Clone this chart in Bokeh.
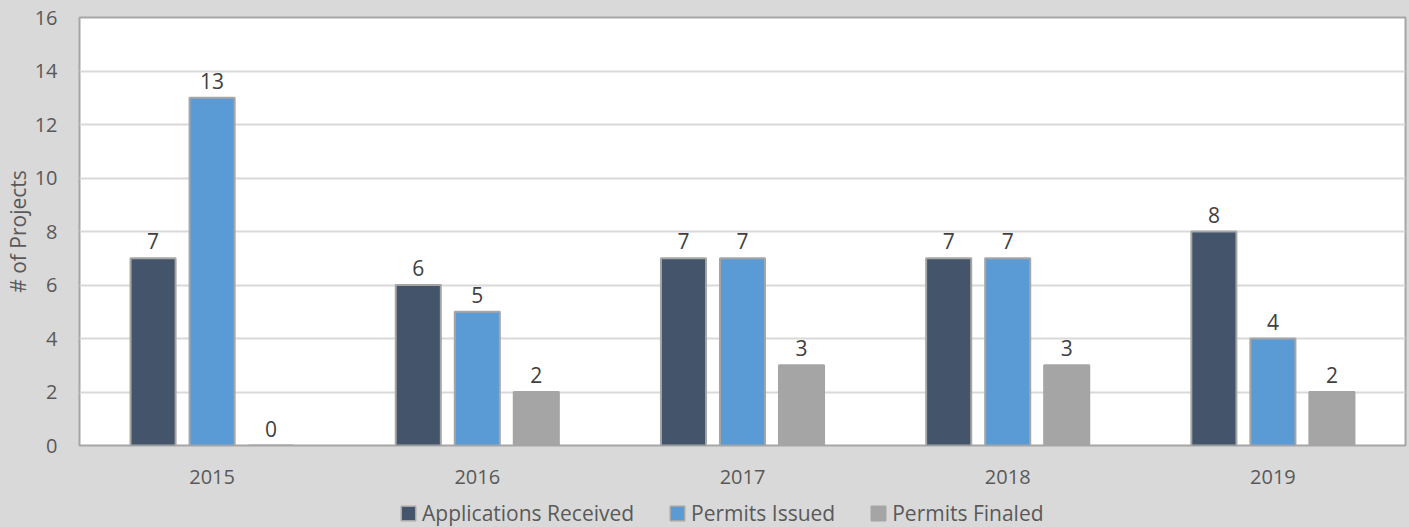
from bokeh.plotting import figure
from bokeh.layouts import column
from bokeh.models import FactorRange, Range1d, ColumnDataSource, Legend, LegendItem, FixedTicker
from bokeh.transform import dodge
from bokeh.core.properties import value
from bokeh.embed import file_html
from bokeh.resources import INLINE

years = ["2015", "2016", "2017", "2018", "2019"]
applications_received = [7, 6, 7, 7, 8]
permits_issued = [13, 5, 7, 7, 4]
permits_finaled = [0, 2, 3, 3, 2]
series_names = ["Applications Received", "Permits Issued", "Permits Finaled"]
colors = ["#44546a", "#5b9bd5", "#a5a5a5"]
y_ticks = [0, 2, 4, 6, 8, 10, 12, 14, 16]

FONT = "Open Sans"
BG = "#d9d9d9"
src = ColumnDataSource(dict(
    years=years,
    app=applications_received, iss=permits_issued, fin=permits_finaled,
    app_l=[str(v) for v in applications_received],
    iss_l=[str(v) for v in permits_issued],
    fin_l=[str(v) for v in permits_finaled],
))

p = figure(x_range=FactorRange(factors=years, range_padding=0), y_range=Range1d(0, 16),
           width=1409, height=497, output_backend="svg", toolbar_location=None, title=None,
           min_border_left=79, min_border_right=4, min_border_top=17, min_border_bottom=52)
p.background_fill_color = "white"
p.border_fill_color = BG
p.outline_line_color = "#a6a6a6"
p.outline_line_width = 2

offsets = [-0.2225, 0.0, 0.2225]
cols = ["app", "iss", "fin"]
outline = ["#a6a6a6", "#a6a6a6", "#a5a5a5"]
for off, c, col, oc in zip(offsets, cols, colors, outline):
    p.vbar(x=dodge("years", off, range=p.x_range), top=c, width=0.17, source=src,
           fill_color=col, line_color=oc, line_width=2)
    p.text(x=dodge("years", off, range=p.x_range), y=c, text=c + "_l", source=src,
           y_offset=-17, text_align="center", text_baseline="alphabetic",
           text_font=value(FONT), text_font_size="21px", text_color="#404040")

p.xgrid.grid_line_color = None
p.ygrid.grid_line_color = BG
p.ygrid.grid_line_width = 2
p.yaxis.ticker = FixedTicker(ticks=y_ticks)

for ax in (p.xaxis[0], p.yaxis[0]):
    ax.axis_line_color = None
    ax.major_tick_line_color = None
    ax.minor_tick_line_color = None
    ax.major_tick_out = 0
    ax.major_tick_in = 0
    ax.minor_tick_out = 0
    ax.minor_tick_in = 0
    ax.major_label_text_font = FONT
    ax.major_label_text_font_size = "20px"
    ax.major_label_text_color = "#595959"

p.xaxis.major_label_standoff = 24
p.yaxis.major_label_standoff = 22
p.yaxis.axis_label = "# of Projects"
p.yaxis.axis_label_text_font = FONT
p.yaxis.axis_label_text_font_size = "21px"
p.yaxis.axis_label_text_font_style = "normal"
p.yaxis.axis_label_text_color = "#595959"
p.yaxis.axis_label_standoff = 0

# legend strip below the chart (its renderers are hidden; only the swatches are shown)
lg = figure(x_range=FactorRange(factors=years), y_range=Range1d(0, 1),
            width=1409, height=30, output_backend="svg", toolbar_location=None, title=None,
            x_axis_type=None, y_axis_type=None,
            min_border_left=0, min_border_right=0, min_border_top=0, min_border_bottom=0)
lg.background_fill_color = BG
lg.border_fill_color = BG
lg.outline_line_color = None
lg.xgrid.grid_line_color = None
lg.ygrid.grid_line_color = None
items = []
for c, col, oc, name in zip(cols, colors, outline, series_names):
    r = lg.vbar(x="years", top=c, width=0.17, source=src,
                fill_color=col, line_color=oc, line_width=1.5, visible=False)
    items.append(LegendItem(label=name, renderers=[r]))
legend = Legend(items=items, orientation="horizontal", location=(320, 0), padding=0, margin=0,
                spacing=34, glyph_width=18, glyph_height=18, label_standoff=5,
                label_text_font=FONT, label_text_font_size="21px", label_text_color="#595959",
                background_fill_alpha=0, border_line_alpha=0, inactive_fill_alpha=0)
lg.add_layout(legend, "center")

layout = column(p, lg, spacing=0)
html = file_html(layout, INLINE)
html = html.replace("</head>", "<style>html,body{background:#d9d9d9;}</style></head>", 1)
open("out.html", "w").write(html)
